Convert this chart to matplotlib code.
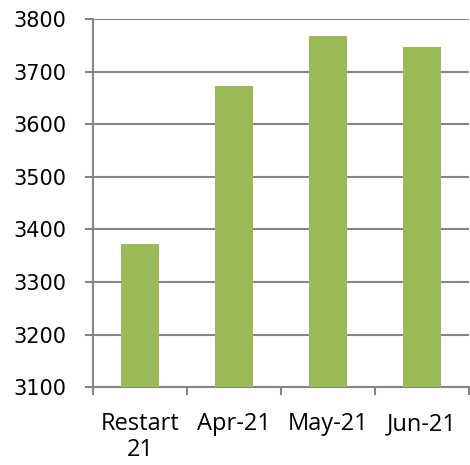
import matplotlib
matplotlib.use('Agg')
import matplotlib.pyplot as plt
import numpy as np

categories = ['Restart\n21', 'Apr-21', 'May-21', 'Jun-21']
values = [3372, 3673, 3767, 3747]
y_ticks = [3100, 3200, 3300, 3400, 3500, 3600, 3700, 3800]

W, H = 470, 465
fig = plt.figure(figsize=(W / 100, H / 100), dpi=100)
ax = fig.add_axes([93 / W, 1 - 387.3 / H, (469 - 93) / W, (387.3 - 19) / H])

grid_col = '#868686'
x = np.arange(len(categories))
ax.bar(x, [v - 3100 for v in values], bottom=3100, width=0.4, color='#9BBB59', zorder=3)

ax.set_xlim(-0.5, len(categories) - 0.5)
ax.set_ylim(3100, 3800)
ax.set_yticks(y_ticks)
ax.set_yticklabels([str(t) for t in y_ticks], fontsize=15, family='DejaVu Sans')
for t in y_ticks:
    ax.axhline(t, color=grid_col, lw=1.5, zorder=1)

# category labels centred, ticks at category boundaries
ax.set_xticks(np.arange(len(categories) + 1) - 0.5)
ax.set_xticklabels([])
ax.set_xticks(x, minor=True)
ax.set_xticklabels(categories, minor=True, fontsize=17, family='Open Sans', linespacing=1.1)
ax.tick_params(axis='x', which='minor', length=0, pad=18)
ax.tick_params(axis='x', which='major', length=6, width=1.5, color=grid_col, direction='out')
ax.tick_params(axis='y', length=6, width=1.5, color=grid_col, direction='out', pad=13)

for s in ['top', 'right']:
    ax.spines[s].set_visible(False)
for s in ['left', 'bottom']:
    ax.spines[s].set_color(grid_col)
    ax.spines[s].set_linewidth(1.5)

fig.savefig('out.png', dpi=100)
